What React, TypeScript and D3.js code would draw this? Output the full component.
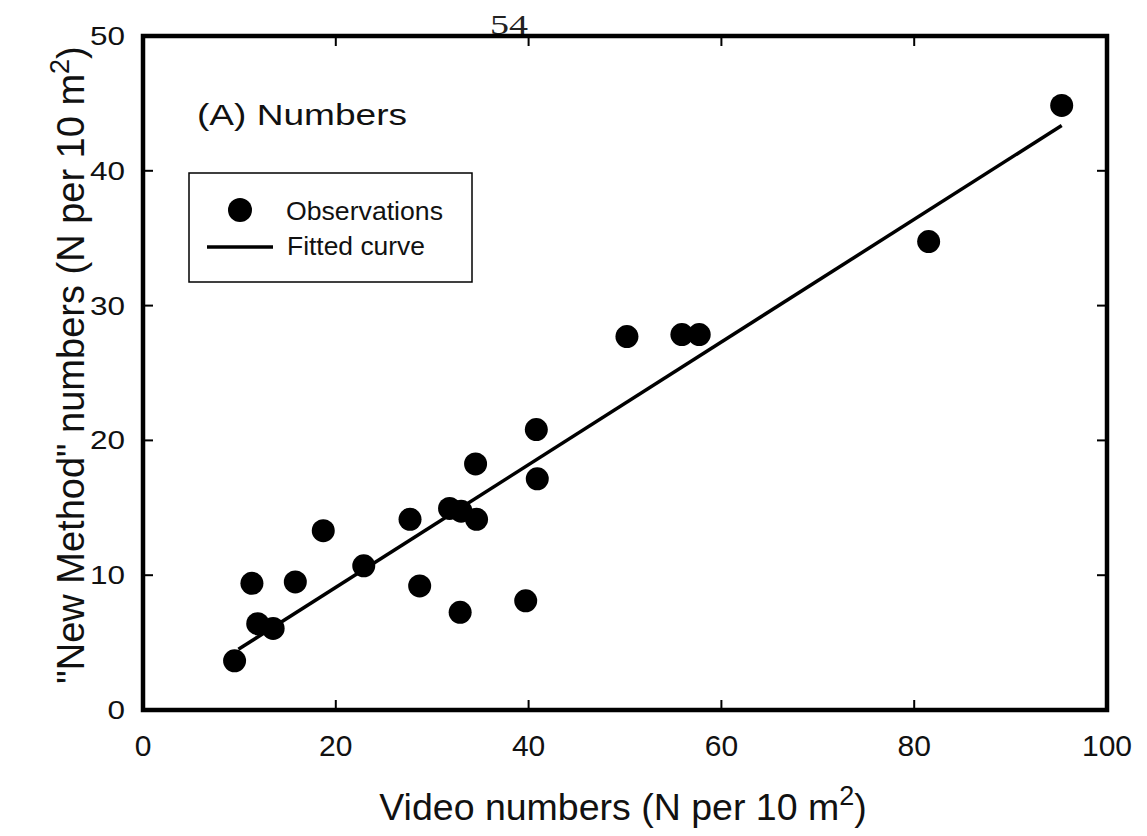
import React from "react";
import * as d3 from "d3";

const videoNumbers = [9.5, 11.3, 11.9, 13.5, 15.8, 18.7, 22.9, 27.7, 28.7, 31.8, 33.0, 34.6, 34.5, 32.9, 39.7, 40.8, 40.9, 50.2, 55.9, 57.7, 81.5, 95.3];
const newMethodNumbers = [3.65, 9.4, 6.4, 6.05, 9.5, 13.3, 10.7, 14.15, 9.2, 14.95, 14.75, 14.15, 18.25, 7.25, 8.1, 20.8, 17.15, 27.7, 27.85, 27.85, 34.75, 44.85];
const fitX = [9.9, 95.3];
const fitSlope = 0.455;
const xTicks = [0, 20, 40, 60, 80, 100];
const yTicks = [0, 10, 20, 30, 40, 50];

const W = 1147, H = 836;
const left = 143, right = 1107, top = 36, bottom = 710;

export default function App() {
  const x = d3.scaleLinear().domain([0, 100]).range([left, right]);
  const y = d3.scaleLinear().domain([0, 50]).range([bottom, top]);
  const line = d3.line<number>().x((d) => x(d)).y((d) => y(fitSlope * d));
  const sans = "'Liberation Sans', Arial, sans-serif";
  return (
    <svg width={W} height={H} style={{ position: "absolute", left: 0, top: 0, background: "#fff" }}>
      <text x={490} y={34} fontFamily="'Liberation Serif', 'Times New Roman', serif" fontSize={28} textLength={38} lengthAdjust="spacingAndGlyphs" fill="#222">54</text>
      {/* frame */}
      <rect x={left} y={top} width={right - left} height={bottom - top} fill="none" stroke="#000" strokeWidth={4.5} />
      {/* ticks */}
      {xTicks.slice(1, -1).map((t) => (
        <g key={"xt" + t}>
          <line x1={x(t)} x2={x(t)} y1={bottom} y2={bottom - 10} stroke="#000" strokeWidth={2} />
          <line x1={x(t)} x2={x(t)} y1={top} y2={top + 10} stroke="#000" strokeWidth={2} />
        </g>
      ))}
      {yTicks.slice(1, -1).map((t) => (
        <g key={"yt" + t}>
          <line x1={left} x2={left + 10} y1={y(t)} y2={y(t)} stroke="#000" strokeWidth={2} />
          <line x1={right} x2={right - 10} y1={y(t)} y2={y(t)} stroke="#000" strokeWidth={2} />
        </g>
      ))}
      {xTicks.map((t) => (
        <text key={"xl" + t} x={x(t)} y={756} textAnchor="middle" fontFamily={sans} fontSize={30} fill="#111">{t}</text>
      ))}
      {yTicks.map((t) => {
        const s = String(t);
        const w = s.length * 17.5;
        return (
          <text key={"yl" + t} x={125 - w} y={y(t) + 9} fontFamily={sans} fontSize={25} textLength={w} lengthAdjust="spacingAndGlyphs" fill="#111">{s}</text>
        );
      })}
      {/* axis titles */}
      <text x={623} y={820} textAnchor="middle" fontFamily={sans} fontSize={37.5} fill="#111">
        Video numbers (N per 10 m<tspan dy={-15} fontSize={27}>2</tspan><tspan dy={15}>)</tspan>
      </text>
      <text transform={`translate(84, 365) rotate(-90)`} textAnchor="middle" fontFamily={sans} fontSize={38} fill="#111">
        "New Method" numbers (N per 10 m<tspan dy={-15} fontSize={27}>2</tspan><tspan dy={15}>)</tspan>
      </text>
      {/* panel label */}
      <text x={197} y={125} fontFamily={sans} fontSize={30} textLength={210} lengthAdjust="spacingAndGlyphs" fill="#111">(A) Numbers</text>
      {/* legend */}
      <rect x={189} y={173} width={283} height={109} fill="#fff" stroke="#000" strokeWidth={1.5} />
      <circle cx={240} cy={210} r={12} fill="#000" />
      <text x={286} y={220} fontFamily={sans} fontSize={25} textLength={157} lengthAdjust="spacingAndGlyphs" fill="#111">Observations</text>
      <line x1={207} x2={273} y1={247} y2={247} stroke="#000" strokeWidth={3.5} />
      <text x={287} y={255} fontFamily={sans} fontSize={25} textLength={138} lengthAdjust="spacingAndGlyphs" fill="#111">Fitted curve</text>
      {/* fitted line */}
      <path d={line(fitX) || ""} fill="none" stroke="#000" strokeWidth={3.5} />
      {/* points */}
      {videoNumbers.map((v, i) => (
        <circle key={i} cx={x(v)} cy={y(newMethodNumbers[i])} r={11.5} fill="#000" />
      ))}
    </svg>
  );
}
